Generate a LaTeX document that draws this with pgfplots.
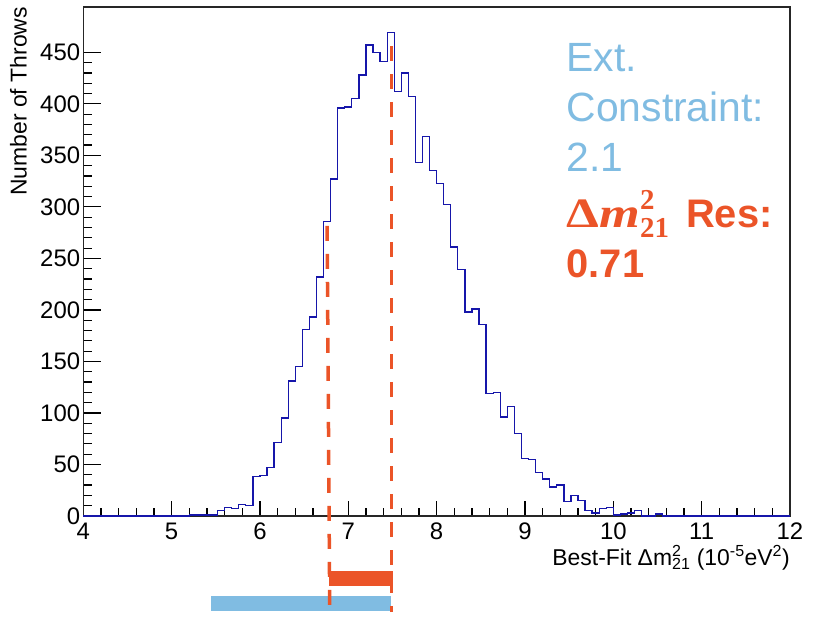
\documentclass[border=0pt]{standalone}
\usepackage{fontspec}
\setmainfont{Liberation Sans}
\newfontfamily\mathlike{Liberation Serif}
\usepackage{pgfplots}
\usepackage{pgfplotstable}
\pgfplotsset{compat=1.18}

\definecolor{histblue}{RGB}{22,22,170}
\definecolor{resorange}{RGB}{235,84,40}
\definecolor{extblue}{RGB}{128,188,226}

\pgfplotstableread{
x y
4.00 0
5.20 1
5.28 1
5.36 1
5.44 1
5.52 5
5.60 8
5.68 7
5.76 11
5.84 10
5.92 38
6.00 39
6.08 47
6.16 71
6.24 95
6.32 131
6.40 145
6.48 181
6.56 193
6.64 232
6.72 286
6.80 327
6.88 396
6.96 397
7.04 405
7.12 428
7.20 457
7.28 450
7.36 441
7.44 469
7.52 412
7.60 430
7.68 407
7.76 343
7.84 368
7.92 335
8.00 323
8.08 302
8.16 261
8.24 239
8.32 198
8.40 201
8.48 186
8.56 119
8.64 120
8.72 96
8.80 106
8.88 80
8.96 56
9.04 55
9.12 42
9.20 36
9.28 28
9.36 30
9.44 14
9.52 20
9.60 15
9.68 5
9.76 3
9.84 7
9.92 8
10.00 1
10.08 2
10.16 3
10.24 5
10.32 0
10.40 0
10.48 2
10.56 0
12.00 0
}\histdata

\begin{document}
\begin{tikzpicture}
\useasboundingbox (-83.3bp,-101bp) rectangle (733.7bp,516bp);
\begin{axis}[
  at={(0,0)}, anchor=south west,
  scale only axis, width=706.7bp, height=509bp,
  xmin=4, xmax=12, ymin=0, ymax=494,
  clip=false,
  axis line style={line width=1.4bp, black!85},
  xtick={4,5,...,12}, ytick={0,50,...,450},
  minor x tick num=4, minor y tick num=4,
  tick align=inside, tick pos=left,
  xtick style={line width=1.2bp, black},
  ytick style={line width=1.2bp, black},
  x tick style={/pgfplots/major tick length=15bp, /pgfplots/minor tick length=8bp},
  y tick style={/pgfplots/major tick length=18bp, /pgfplots/minor tick length=9bp},
  /pgf/number format/assume math mode=true,
  xticklabel style={font=\fontsize{24}{24}\selectfont, inner sep=0pt, yshift=-7bp},
  yticklabel style={font=\fontsize{24}{24}\selectfont, inner sep=0pt, xshift=-3bp},
  xlabel={Best-Fit Δm\rlap{\textsuperscript{2}}\textsubscript{21} (10\textsuperscript{-5}eV\textsuperscript{2})},
  ylabel={Number of Throws},
  every axis x label/.style={at={(axis description cs:1,0)}, anchor=base east, yshift=-49.7bp, inner sep=0pt, font=\fontsize{23}{23}\selectfont},
  every axis y label/.style={at={(axis description cs:-0.0917,1)}, anchor=east, rotate=90, inner sep=0pt, font=\fontsize{23}{23}\selectfont},
]
\addplot[const plot mark left, histblue, line width=1.3bp, mark=none] table {\histdata};

\addplot[extblue, line width=15bp, mark=none] coordinates {(5.45,-84.8) (7.48,-84.8)};
\addplot[resorange, line width=15bp, mark=none] coordinates {(6.785,-60.5) (7.503,-60.5)};
\addplot[resorange, line width=3.5bp, dash pattern=on 15bp off 13bp, mark=none] coordinates {(6.76,281.5) (6.79,-93)};
\addplot[resorange, line width=3.5bp, dash pattern=on 15bp off 13bp, mark=none] coordinates {(7.49,456) (7.49,-93)};

\node[anchor=base west, inner sep=0pt, text=extblue, font=\fontsize{41}{41}\selectfont] at (axis cs:9.47,431.4) {Ext.};
\node[anchor=base west, inner sep=0pt, text=extblue, font=\fontsize{41}{41}\selectfont] at (axis cs:9.47,382.8) {Constraint:};
\node[anchor=base west, inner sep=0pt, text=extblue, font=\fontsize{41}{41}\selectfont] at (axis cs:9.47,334.3) {2.1};
\node[anchor=base west, inner sep=0pt, text=resorange, font=\fontsize{40}{40}\selectfont\bfseries] at (axis cs:9.47,279.6) {\scalebox{1.25}[1]{\mathlike\fontsize{42}{42}\selectfont Δ\itshape m}\rlap{\mathlike\fontsize{29}{29}\selectfont\raisebox{18bp}{2}}{\mathlike\fontsize{29}{29}\selectfont\raisebox{-10bp}{21}}\hspace{6bp} Res:};
\node[anchor=base west, inner sep=0pt, text=resorange, font=\fontsize{40}{40}\selectfont\bfseries] at (axis cs:9.47,231.1) {0.71};
\end{axis}
\end{tikzpicture}
\end{document}
